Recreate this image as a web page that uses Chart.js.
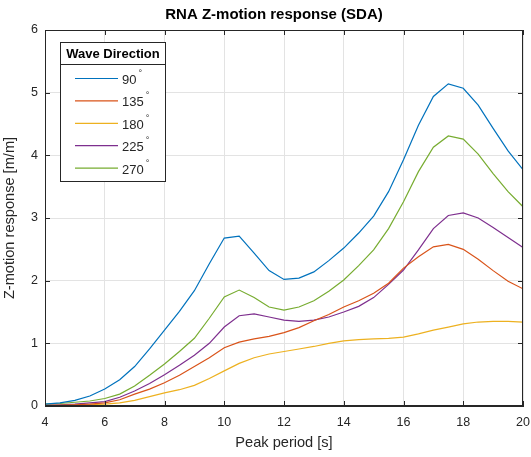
<!DOCTYPE html>
<html>
<head>
<meta charset="utf-8">
<script src="https://cdn.jsdelivr.net/npm/chart.js@4"></script>
<style>
  html, body { margin: 0; padding: 0; background: #fff; }
  #wrap { width: 531px; height: 457px; }
</style>
</head>
<body>
<div id="wrap"><canvas id="chart" width="531" height="457"></canvas></div>
<script>
const periods = [4, 4.5, 5, 5.5, 6, 6.5, 7, 7.5, 8, 8.5, 9, 9.5, 10, 10.5, 11, 11.5, 12,
    12.5, 13, 13.5, 14, 14.5, 15, 15.5, 16, 16.5, 17, 17.5, 18, 18.5, 19, 19.5, 20];

const directions = [90, 135, 180, 225, 270];
const colors = ['#0072BD', '#D95319', '#EDB120', '#7E2F8E', '#77AC30'];

const dir90 = [0.03, 0.05, 0.09, 0.16, 0.27, 0.42, 0.63, 0.91, 1.21, 1.51, 1.84, 2.27, 2.68, 2.71, 2.44, 2.16, 2.02,
    2.04, 2.14, 2.32, 2.52, 2.76, 3.03, 3.42, 3.93, 4.48, 4.94, 5.14, 5.07, 4.80, 4.43, 4.07, 3.77];
const dir135 = [0.01, 0.01, 0.02, 0.03, 0.05, 0.10, 0.19, 0.27, 0.37, 0.49, 0.63, 0.77, 0.93, 1.02, 1.07, 1.11, 1.17,
    1.25, 1.36, 1.46, 1.58, 1.68, 1.80, 1.96, 2.20, 2.38, 2.54, 2.58, 2.50, 2.34, 2.16, 1.99, 1.87];
const dir180 = [0.01, 0.01, 0.01, 0.02, 0.03, 0.05, 0.09, 0.15, 0.21, 0.26, 0.33, 0.44, 0.56, 0.68, 0.77, 0.83, 0.87,
    0.91, 0.95, 1.00, 1.04, 1.06, 1.07, 1.08, 1.10, 1.15, 1.21, 1.26, 1.31, 1.34, 1.35, 1.35, 1.34];
const dir225 = [0.01, 0.02, 0.03, 0.05, 0.07, 0.14, 0.24, 0.36, 0.50, 0.65, 0.81, 1.00, 1.26, 1.44, 1.47, 1.42, 1.37,
    1.35, 1.37, 1.42, 1.50, 1.59, 1.73, 1.94, 2.17, 2.49, 2.83, 3.04, 3.08, 3.00, 2.85, 2.69, 2.53];
const dir270 = [0.03, 0.04, 0.06, 0.08, 0.12, 0.19, 0.32, 0.49, 0.67, 0.87, 1.08, 1.40, 1.74, 1.85, 1.73, 1.58, 1.53,
    1.58, 1.68, 1.83, 2.01, 2.24, 2.49, 2.83, 3.26, 3.74, 4.13, 4.31, 4.26, 4.02, 3.71, 3.42, 3.18];

const xTicks = [4, 6, 8, 10, 12, 14, 16, 18, 20];
const yTicks = [0, 1, 2, 3, 4, 5, 6];

const FONT = 'Helvetica, "Liberation Sans", Arial, sans-serif';
const AXIS_COLOR = '#262626';

const series = [dir90, dir135, dir180, dir225, dir270];
const datasets = series.map((vals, i) => ({
    label: directions[i] + '°',
    data: periods.map((p, j) => ({ x: p, y: vals[j] })),
    borderColor: colors[i],
    backgroundColor: colors[i],
    borderWidth: 1.2,
    pointRadius: 0,
    tension: 0
}));

// matlab style box, inner ticks, title and legend
const matlabLook = {
    id: 'matlabLook',
    afterDatasetsDraw(chart) {
        const ctx = chart.ctx;
        const a = chart.chartArea;
        const xs = chart.scales.x, ys = chart.scales.y;
        ctx.save();

        // box
        ctx.strokeStyle = AXIS_COLOR;
        ctx.lineWidth = 1;
        ctx.strokeRect(a.left + 0.5, a.top + 0.5, a.right - a.left - 1, a.bottom - a.top - 1);

        // ticks pointing inward
        const tl = 5;
        ctx.beginPath();
        xTicks.forEach(v => {
            const px = Math.round(xs.getPixelForValue(v)) + 0.5;
            ctx.moveTo(px, a.bottom); ctx.lineTo(px, a.bottom - tl);
            ctx.moveTo(px, a.top); ctx.lineTo(px, a.top + tl);
        });
        yTicks.forEach(v => {
            const py = Math.round(ys.getPixelForValue(v)) + 0.5;
            ctx.moveTo(a.left, py); ctx.lineTo(a.left + tl, py);
            ctx.moveTo(a.right, py); ctx.lineTo(a.right - tl, py);
        });
        ctx.stroke();

        // title
        ctx.fillStyle = '#000';
        ctx.font = 'bold 15px ' + FONT;
        ctx.textAlign = 'center';
        ctx.textBaseline = 'middle';
        ctx.fillText('RNA Z-motion response (SDA)', 274, 15);

        // legend
        const lx = 60, ly = 42, lw = 105, lh = 139;
        ctx.fillStyle = '#fff';
        ctx.fillRect(lx, ly, lw, lh);
        ctx.strokeStyle = AXIS_COLOR;
        ctx.strokeRect(lx + 0.5, ly + 0.5, lw, lh);
        ctx.beginPath();
        ctx.moveTo(lx, ly + 22.5); ctx.lineTo(lx + lw, ly + 22.5);
        ctx.stroke();
        ctx.fillStyle = '#000';
        ctx.font = 'bold 13px ' + FONT;
        ctx.fillText('Wave Direction', lx + lw / 2 + 0.5, ly + 12);

        chart.data.datasets.forEach((ds, i) => {
            const y = 78.5 + i * 22.4;
            ctx.strokeStyle = ds.borderColor;
            ctx.lineWidth = 1.2;
            ctx.beginPath();
            ctx.moveTo(75, y); ctx.lineTo(118, y);
            ctx.stroke();
            const num = ds.label.replace('°', '');
            ctx.fillStyle = AXIS_COLOR;
            ctx.textAlign = 'left';
            ctx.font = '13px ' + FONT;
            ctx.fillText(num, 122, y + 2);
            const w = ctx.measureText(num).width;
            ctx.font = '9px ' + FONT;
            ctx.fillText('°', 122 + w + 2, y - 5);
        });
        ctx.restore();
    }
};

new Chart(document.getElementById('chart'), {
    type: 'line',
    data: { datasets: datasets },
    options: {
        responsive: false,
        animation: false,
        layout: { padding: { top: 30, right: 0, left: 0, bottom: 0 } },
        plugins: {
            legend: { display: false },
            title: { display: false },
            tooltip: { enabled: false }
        },
        scales: {
            x: {
                type: 'linear',
                min: 4,
                max: 20,
                afterBuildTicks: s => { s.ticks = xTicks.map(v => ({ value: v })); },
                afterFit: s => { s.height = 51; s.paddingRight = 8; s.paddingLeft = 0; },
                ticks: {
                    color: AXIS_COLOR,
                    font: { family: FONT, size: 12.5 },
                    padding: 9,
                    maxRotation: 0
                },
                grid: { color: '#e3e3e3', drawTicks: false },
                border: { color: AXIS_COLOR },
                title: {
                    display: true,
                    text: 'Peak period [s]',
                    color: AXIS_COLOR,
                    font: { family: FONT, size: 14.6 },
                    padding: { top: 0, bottom: 5 }
                }
            },
            y: {
                min: 0,
                max: 6,
                afterBuildTicks: s => { s.ticks = yTicks.map(v => ({ value: v })); },
                afterFit: s => { s.width = 45; s.paddingTop = 0; s.paddingBottom = 0; },
                ticks: {
                    color: AXIS_COLOR,
                    font: { family: FONT, size: 12.5 },
                    padding: 7
                },
                grid: { color: '#e3e3e3', drawTicks: false },
                border: { color: AXIS_COLOR },
                title: {
                    display: true,
                    text: 'Z-motion response [m/m]',
                    color: AXIS_COLOR,
                    font: { family: FONT, size: 14.6 },
                    padding: { top: 1, bottom: 0 }
                }
            }
        }
    },
    plugins: [matlabLook]
});
</script>
</body>
</html>
